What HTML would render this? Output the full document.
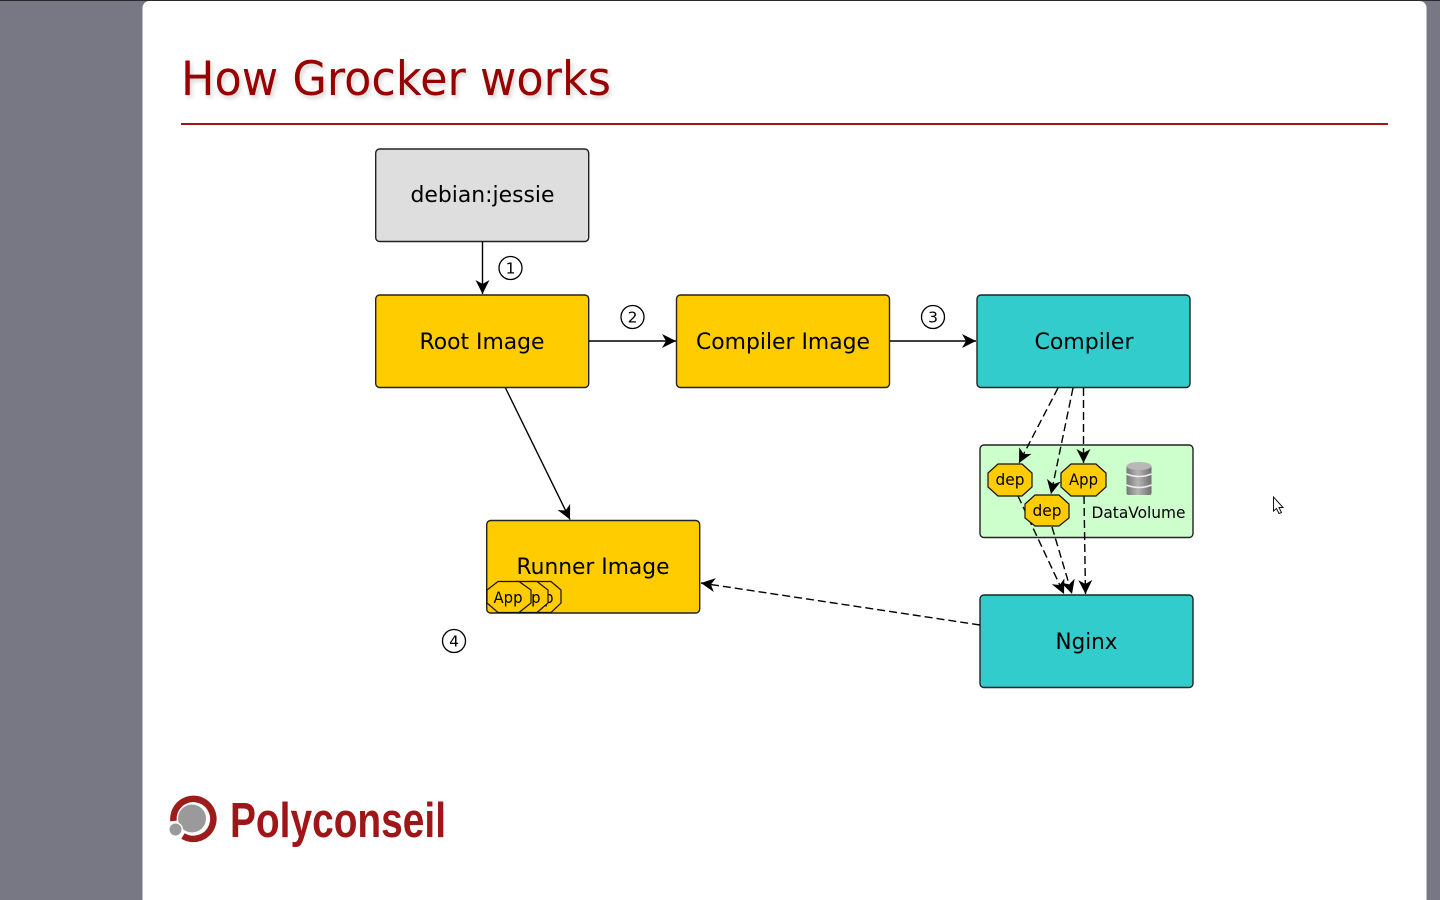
<!DOCTYPE html>
<html><head><meta charset="utf-8"><style>
html,body{margin:0;padding:0;width:1440px;height:900px;overflow:hidden;background:#787885}
svg{display:block;filter:blur(.35px)}
text{font-family:"DejaVu Sans",sans-serif;fill:#000}
</style></head><body>
<svg width="1440" height="900" viewBox="0 0 1440 900" xmlns="http://www.w3.org/2000/svg">
<defs>
<marker id="a" markerUnits="userSpaceOnUse" markerWidth="16" markerHeight="15" refX="14" refY="7" orient="auto"><path d="M0 0L14 7L0 14L4 7Z" fill="#000"/></marker>
<filter id="s" x="-5%" y="-20%" width="110%" height="150%"><feGaussianBlur stdDeviation="2"/></filter>
<linearGradient id="c" x1="0" x2="1" y1="0" y2="0"><stop offset="0" stop-color="#777"/><stop offset=".45" stop-color="#b5b5b5"/><stop offset="1" stop-color="#6f6f6f"/></linearGradient>
</defs>
<rect width="1440" height="900" fill="#787885"/>
<rect width="1440" height="1" fill="#2a2a2e"/>
<rect x="142.500" y="1" width="1284" height="910" rx="7" fill="#fff"/>
<text x="183" y="98" font-size="47" textLength="430" lengthAdjust="spacingAndGlyphs" opacity=".3" filter="url(#s)" style="fill:#777">How Grocker works</text>
<text x="181" y="95" font-size="47" textLength="430" lengthAdjust="spacingAndGlyphs" style="fill:#990000">How Grocker works</text>
<rect x="181" y="123" width="1207" height="2" fill="#a01515"/>

<g stroke="#222" stroke-width="1.400">
<rect x="375.700" y="149" width="213" height="92.500" rx="4" fill="#dedede"/>
<rect x="375.700" y="295" width="213" height="92.500" rx="4" fill="#ffcc00"/>
<rect x="676.500" y="295" width="213" height="92.500" rx="4" fill="#ffcc00"/>
<rect x="977" y="295" width="213" height="92.500" rx="4" fill="#33cccc"/>
<rect x="980" y="445" width="213" height="92.500" rx="4" fill="#ccffcc"/>
<rect x="980" y="595" width="213" height="92.500" rx="4" fill="#33cccc"/>
<rect x="486.700" y="520.500" width="213" height="92.500" rx="4" fill="#ffcc00"/>
</g>

<g font-size="22.500" lengthAdjust="spacingAndGlyphs">
<text x="410.500" y="202" textLength="144" lengthAdjust="spacingAndGlyphs">debian:jessie</text>
<text x="419.500" y="349" textLength="125" lengthAdjust="spacingAndGlyphs">Root Image</text>
<text x="696" y="349" textLength="174" lengthAdjust="spacingAndGlyphs">Compiler Image</text>
<text x="1034.500" y="349" textLength="99" lengthAdjust="spacingAndGlyphs">Compiler</text>
<text x="1055.500" y="649" textLength="62" lengthAdjust="spacingAndGlyphs">Nginx</text>
<text x="516.500" y="574" textLength="153" lengthAdjust="spacingAndGlyphs">Runner Image</text>
</g>

<g fill="none" stroke="#000" stroke-width="1.400">
<path d="M482.500 241.500V294" marker-end="url(#a)"/>
<path d="M589 341H676" marker-end="url(#a)"/>
<path d="M890 341H976" marker-end="url(#a)"/>
<path d="M505.500 388L570 519.500" marker-end="url(#a)"/>
<g stroke-dasharray="8 4">
<path d="M1058 388L1019 463" marker-end="url(#a)"/>
<path d="M1073 388L1051 494" marker-end="url(#a)"/>
<path d="M1083.500 388V463" marker-end="url(#a)"/>
<path d="M1018 496L1064 594" marker-end="url(#a)"/>
<path d="M1052 527L1072 594" marker-end="url(#a)"/>
<path d="M1084 496L1085.500 594" marker-end="url(#a)"/>
<path d="M980 625L701 583" marker-end="url(#a)"/>
</g>
</g>

<g stroke="#111" stroke-width="1.200" fill="#ffcc00">
<polygon points="998,464 1022,464 1032,473 1032,487 1022,496 998,496 988,487 988,473"/>
<polygon points="1071,464 1096,464 1106,473 1106,487 1096,496 1071,496 1061,487 1061,473"/>
<polygon points="1035,495 1059,495 1069,504 1069,518 1059,526 1035,526 1025,518 1025,504"/>
</g>
<g font-size="16">
<text x="995.500" y="485" textLength="29" lengthAdjust="spacingAndGlyphs">dep</text>
<text x="1069" y="485" textLength="29" lengthAdjust="spacingAndGlyphs">App</text>
<text x="1032.500" y="516" textLength="29" lengthAdjust="spacingAndGlyphs">dep</text>
<text x="1091.500" y="518" textLength="94" lengthAdjust="spacingAndGlyphs">DataVolume</text>
</g>
<g>
<rect x="1126.500" y="465" width="25" height="30" rx="2" fill="url(#c)"/>
<ellipse cx="1139" cy="466" rx="12.500" ry="4" fill="#b8b8b8"/>
<path d="M1126.500 474q12.500 5 25 0M1126.500 485q12.500 5 25 0" stroke="#eee" stroke-width="1.500" fill="none"/>
</g>

<g stroke="#111" stroke-width="1.200" fill="#ffcc00">
<polygon points="530,581.500 551,581.500 561,590 561,603 551,612.500 530,612.500 517,603 517,590"/>
</g>
<text x="524.500" y="603" font-size="16" textLength="29" lengthAdjust="spacingAndGlyphs">App</text>
<g stroke="#111" stroke-width="1.200" fill="#ffcc00">
<polygon points="516,581.500 537,581.500 548,590 548,603 537,612.500 516,612.500 504,603 504,590"/>
</g>
<text x="511.500" y="603" font-size="16" textLength="29" lengthAdjust="spacingAndGlyphs">App</text>
<g stroke="#111" stroke-width="1.200" fill="#ffcc00">
<polygon points="498,581.500 519,581.500 531,590 531,603 519,612.500 498,612.500 487,603 487,590"/>
</g>
<text x="493.500" y="603" font-size="16" textLength="29" lengthAdjust="spacingAndGlyphs">App</text>

<g fill="#fff" stroke="#000" stroke-width="1.300">
<circle cx="510.500" cy="268" r="11.500"/>
<circle cx="632.500" cy="317" r="11.500"/>
<circle cx="933" cy="317" r="11.500"/>
<circle cx="454" cy="641" r="11.500"/>
</g>
<g font-size="15.500" text-anchor="middle">
<text x="510.500" y="273.500">1</text>
<text x="632.500" y="322.500">2</text>
<text x="933" y="322.500">3</text>
<text x="454" y="646.500">4</text>
</g>

<path d="M173.500 821A20 20 0 1 1 183 836" fill="none" stroke="#9c1c1c" stroke-width="6.500"/>
<circle cx="192" cy="818.500" r="14" fill="#9a9a9a"/>
<circle cx="175.500" cy="829.500" r="7.500" fill="#fff"/>
<circle cx="175.500" cy="829.500" r="6" fill="#9a9a9a"/>
<text x="230" y="837" font-size="49" font-weight="bold" textLength="216" lengthAdjust="spacingAndGlyphs" style="font-family:'Liberation Sans',sans-serif;fill:#9f1518">Polyconseil</text>

<path d="M1273.500 497V511L1276.500 508.500L1279 513.500L1281.500 512.500L1279 507.500H1283Z" fill="#fff" stroke="#111" stroke-width="1"/>
</svg>
</body></html>
